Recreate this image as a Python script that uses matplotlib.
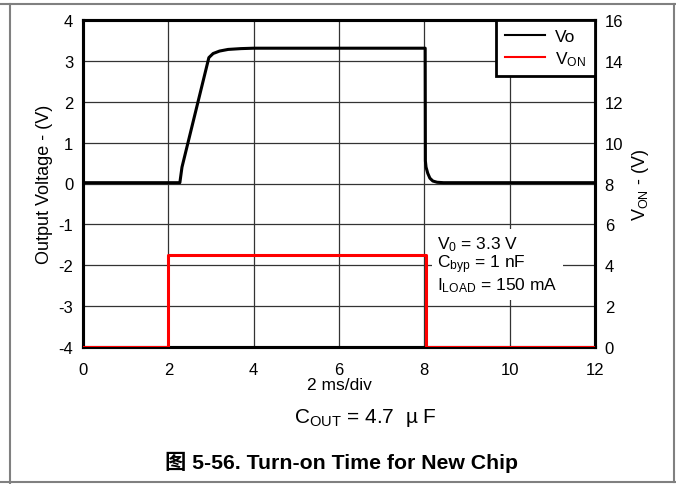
import matplotlib.pyplot as plt
from matplotlib.lines import Line2D
import numpy as np

plt.rcParams['font.family'] = ['Liberation Sans', 'Noto Sans CJK SC', 'DejaVu Sans']
plt.rcParams['mathtext.fontset'] = 'custom'
plt.rcParams['mathtext.rm'] = 'Liberation Sans'
plt.rcParams['mathtext.it'] = 'Liberation Sans'
plt.rcParams['axes.unicode_minus'] = False

# output voltage trace (ms, V)
vo_t = [0, 2.27, 2.32, 2.95, 3.05, 3.2, 3.4, 3.7, 4.0, 8.02, 8.025, 8.04, 8.08, 8.13, 8.2, 8.3, 8.45, 12]
vo_v = [0.02, 0.02, 0.4, 3.08, 3.18, 3.24, 3.28, 3.3, 3.31, 3.31, 0.55, 0.4, 0.25, 0.13, 0.06, 0.03, 0.02, 0.02]

# enable signal (ms, V)
von_t = [0, 2.0, 2.0, 8.05, 8.05, 12]
von_v = [0, 0, 4.5, 4.5, 0, 0]

x_ticks = [0, 2, 4, 6, 8, 10, 12]
y_ticks = [-4, -3, -2, -1, 0, 1, 2, 3, 4]
y2_ticks = [0, 2, 4, 6, 8, 10, 12, 14, 16]

fig = plt.figure(figsize=(6.76, 4.85), dpi=100)
ax = fig.add_axes([83/676, 1 - 348/485, 512/676, 327/485])
ax2 = ax.twinx()

ax.plot(vo_t, vo_v, color='black', lw=2.2, zorder=5)
ax2.plot(von_t, von_v, color='#ff0000', lw=2.2, zorder=5)

ax.set_xlim(0, 12)
ax.set_ylim(-4, 4)
ax2.set_ylim(0, 16)
ax.set_xticks(x_ticks)
ax.set_yticks(y_ticks)
ax2.set_yticks(y2_ticks)
ax.grid(True, color='#333333', lw=0.9)
for a in (ax, ax2):
    a.tick_params(labelsize=12, length=0, pad=7)
    for s in a.spines.values():
        s.set_linewidth(2.2)
ax.tick_params(axis='x', pad=11)
ax.set_ylabel('Output Voltage - (V)', fontsize=13, labelpad=4)
ax2.set_ylabel('V$_{\\mathrm{ON}}$ - (V)', fontsize=13, rotation=90, labelpad=5)
ax.set_xlabel('2 ms/div', fontsize=12.5, labelpad=0)

handles = [Line2D([], [], color='black', lw=1.5), Line2D([], [], color='#ff0000', lw=1.5)]
leg = ax2.legend(handles, ['Vo', 'V$_{\\mathrm{ON}}$'], loc='upper right', fontsize=12.5,
                 frameon=True, fancybox=False, borderaxespad=0, handlelength=2.3,
                 handletextpad=0.6, borderpad=0.5, labelspacing=0.3, framealpha=1)
leg.get_frame().set_edgecolor('black')
leg.get_frame().set_linewidth(2.0)
leg.set_zorder(10)

ax2.text(0.692, 0.345, 'V$_0$ = 3.3 V\nC$_{\\mathrm{byp}}$ = 1 nF\nI$_{\\mathrm{LOAD}}$ = 150 mA',
         transform=ax.transAxes, fontsize=12.5, va='top', ha='left', linespacing=1.0,
         bbox=dict(facecolor='white', edgecolor='none', pad=4), zorder=6)

fig.text(365/676, 1 - 418/485, 'C$_{\\mathrm{OUT}}$ = 4.7  µ F', fontsize=15, ha='center', va='center')
fig.text(341.5/676, 1 - 462/485, '图 5-56. Turn-on Time for New Chip', fontsize=15.3,
         fontweight='bold', ha='center', va='center',
         family=['Liberation Sans', 'Noto Sans CJK SC'])

# gray page frame
gc = '#808080'
fig.add_artist(Line2D([0, 1], [1 - 5/485, 1 - 5/485], color=gc, lw=1.5))
fig.add_artist(Line2D([0, 1], [1 - 483/485, 1 - 483/485], color=gc, lw=1.5))
fig.add_artist(Line2D([10/676, 10/676], [0, 1 - 5/485], color=gc, lw=1.5))
fig.add_artist(Line2D([674/676, 674/676], [1 - 483/485, 1 - 5/485], color=gc, lw=1.5))

fig.savefig('out.png', dpi=100)
